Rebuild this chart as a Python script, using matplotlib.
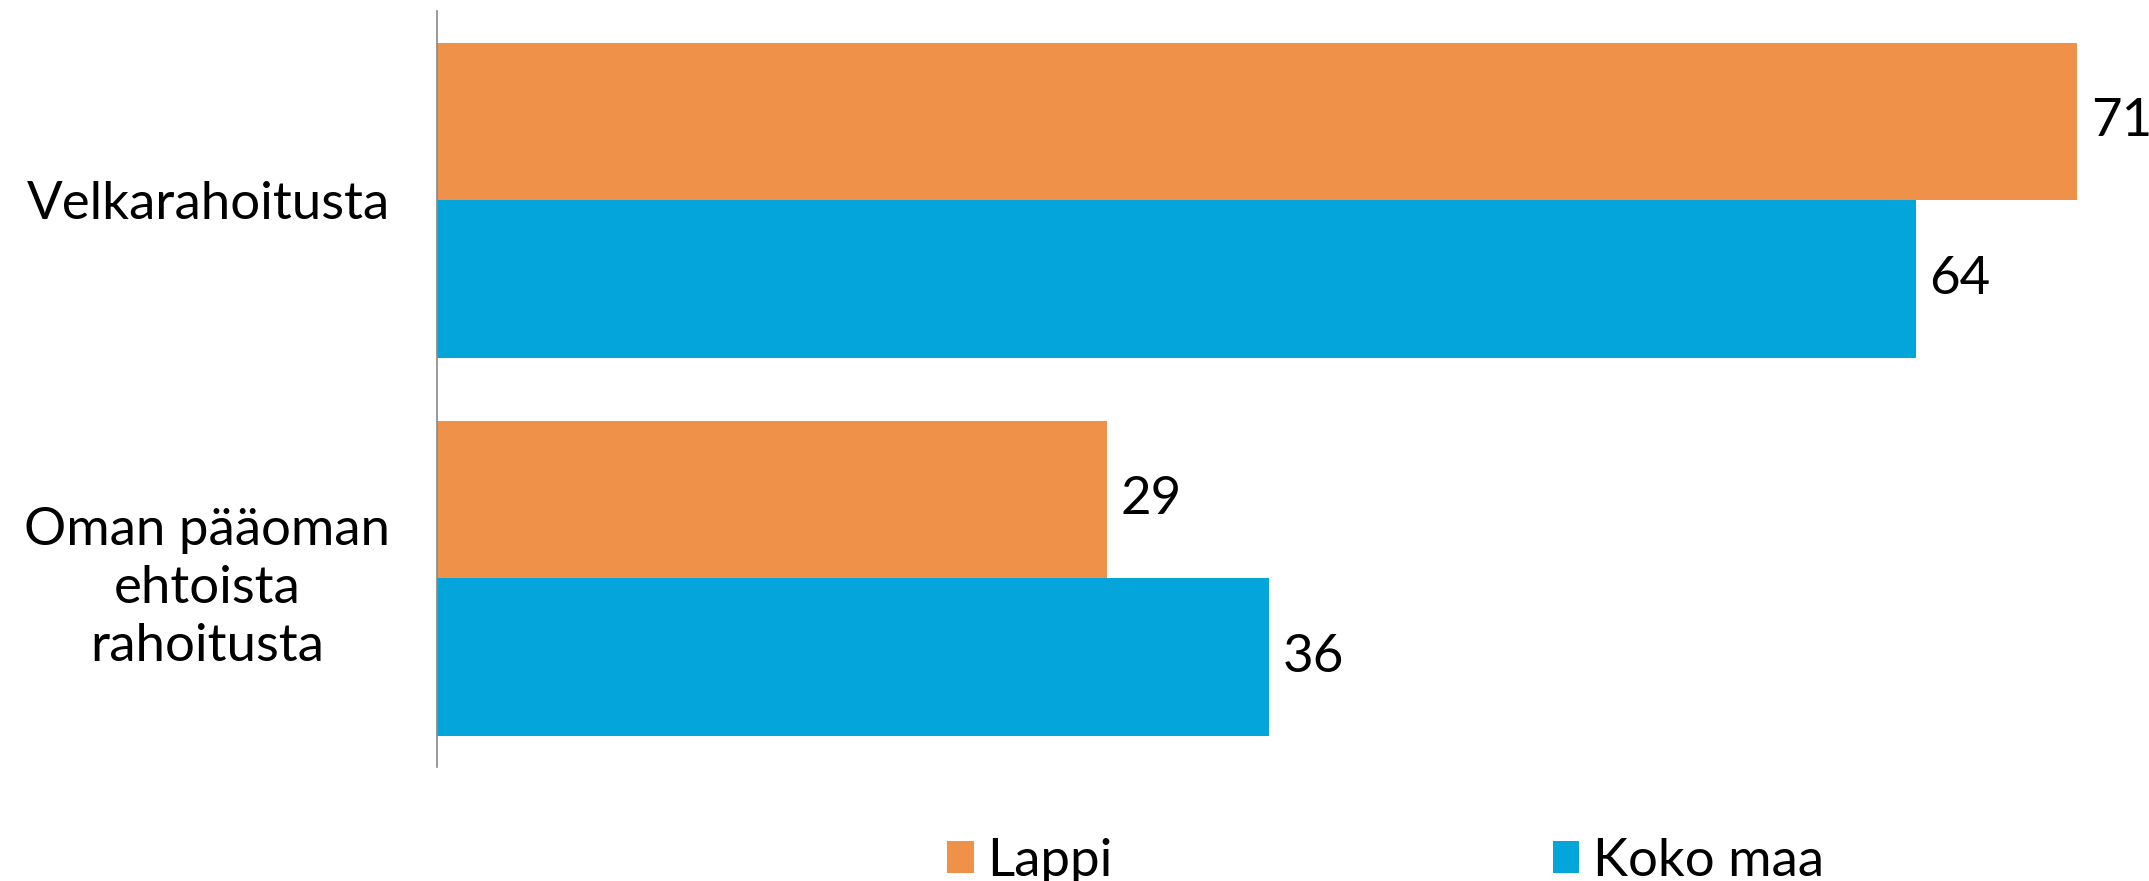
import numpy as np
from matplotlib import pyplot as plt

categories = ['Velkarahoitusta', 'Oman pääoman\nehtoista\nrahoitusta']
series = ['Lappi', 'Koko maa']
lappi = [71, 29]
kokoMaa = [64, 36]
colors = ['#F0914A', '#03A5DA']

plt.rcParams['font.family'] = ['Lato', 'DejaVu Sans']
fontSize = 38

fig = plt.figure(figsize=(21.49, 8.81), dpi=100)
ax = fig.add_axes([0.2034, 0.129, 0.7955, 0.858])

y = np.arange(len(categories))
barHeight = 0.417
bars1 = ax.barh(y - barHeight/2, lappi, height=barHeight, color=colors[0], label=series[0])
bars2 = ax.barh(y + barHeight/2, kokoMaa, height=barHeight, color=colors[1], label=series[1])

for bars, values in [(bars1, lappi), (bars2, kokoMaa)]:
	for bar, v in zip(bars, values):
		ax.text(bar.get_width() + 0.6, bar.get_y() + bar.get_height()/2, str(v),
			va='center', ha='left', fontsize=fontSize)

ax.set_xlim(0, 74)
ax.set_ylim(1.5, -0.5)
ax.set_xticks([])
ax.set_yticks(y)
ax.set_yticklabels(categories, fontsize=fontSize, multialignment='center', linespacing=1.3)
ax.tick_params(axis='y', length=0, pad=34)
for s in ['top', 'right', 'bottom']:
	ax.spines[s].set_visible(False)
ax.spines['left'].set_color('#888888')
ax.spines['left'].set_linewidth(1.2)

fig.legend(loc='lower left', bbox_to_anchor=(0.431, -0.028), ncol=2, frameon=False,
	fontsize=fontSize, handlelength=0.5, handleheight=0.55, handletextpad=0.25,
	columnspacing=8.35, borderaxespad=0)

fig.savefig('out.png', dpi=100)
